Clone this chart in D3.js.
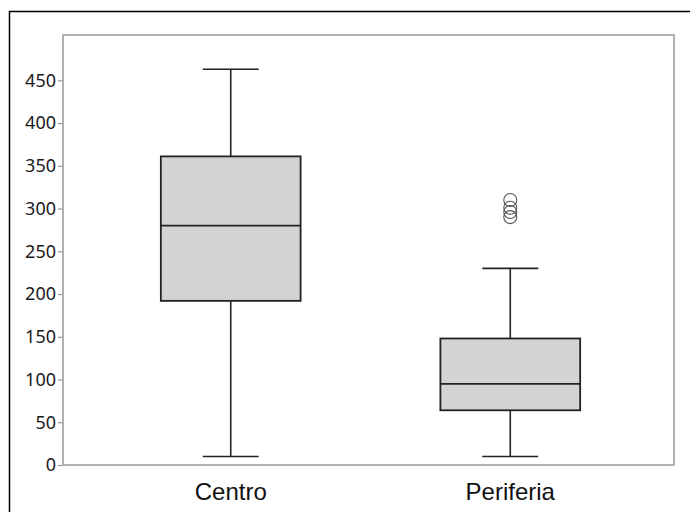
<!DOCTYPE html>
<html>
<head>
<meta charset="utf-8">
<script src="https://cdn.jsdelivr.net/npm/d3@7"></script>
<style>
  body { margin: 0; background: #fff; }
  svg { display: block; }
</style>
</head>
<body>
<svg id="chart" width="690" height="512"></svg>
<script>
// box statistics
const categories = ["Centro", "Periferia"];
const lowWhisker = [10, 10];
const lowerQuartile = [192, 64];
const medians = [280, 95];
const upperQuartile = [361, 148];
const highWhisker = [463, 230];
const outliers = [[], [310, 301, 296, 290]];
const yTicks = [0, 50, 100, 150, 200, 250, 300, 350, 400, 450];

const width = 690, height = 512;
const margin = { top: 35, right: 16, bottom: 47, left: 63 };
const innerW = width - margin.left - margin.right,
  innerH = height - margin.top - margin.bottom;

const svg = d3.select("#chart");

// outer frame, runs past the window on right and bottom
svg.append("rect")
  .attr("x", 9.5).attr("y", 11.5)
  .attr("width", 720).attr("height", 540)
  .attr("fill", "none")
  .attr("stroke", "#000")
  .attr("stroke-width", 1.5);

const g = svg.append("g").attr("transform", `translate(${margin.left},${margin.top})`);

const x = d3.scalePoint().domain(categories).range([0, innerW + 4]).padding(0.6);
const step = x.step();
const y = d3.scaleLinear().domain([0, 503]).range([innerH, 0]);

// plot frame
g.append("rect")
  .attr("x", 0).attr("y", 0)
  .attr("width", innerW).attr("height", innerH)
  .attr("fill", "none")
  .attr("stroke", "#999")
  .attr("stroke-width", 1.5);

// y axis
const yAxis = g.append("g")
  .call(d3.axisLeft(y).tickValues(yTicks).tickSize(5).tickPadding(2));
yAxis.select(".domain").remove();
yAxis.selectAll(".tick line").attr("stroke", "#999").attr("stroke-width", 1.2);
yAxis.selectAll(".tick text")
  .attr("fill", "#1a1a1a")
  .style("font-family", "'Noto Sans', 'Open Sans', sans-serif")
  .style("font-size", "18px");

// x labels
g.selectAll(".xlab")
  .data(categories)
  .join("text")
  .attr("x", d => x(d))
  .attr("y", innerH + 35)
  .attr("text-anchor", "middle")
  .style("font-family", "'Liberation Sans', Arial, sans-serif")
  .style("font-size", "24px")
  .attr("fill", "#111")
  .text(d => d);

const boxW = step * 0.5, capW = step * 0.2;
const ink = "#222";

const boxes = g.selectAll(".box")
  .data(categories)
  .join("g")
  .attr("class", "box");

// whiskers
boxes.append("line")
  .attr("x1", d => x(d)).attr("x2", d => x(d))
  .attr("y1", (d, i) => y(lowWhisker[i]))
  .attr("y2", (d, i) => y(highWhisker[i]))
  .attr("stroke", ink).attr("stroke-width", 1.6);

boxes.append("line")
  .attr("x1", d => x(d) - capW / 2).attr("x2", d => x(d) + capW / 2)
  .attr("y1", (d, i) => y(highWhisker[i])).attr("y2", (d, i) => y(highWhisker[i]))
  .attr("stroke", ink).attr("stroke-width", 1.6);

boxes.append("line")
  .attr("x1", d => x(d) - capW / 2).attr("x2", d => x(d) + capW / 2)
  .attr("y1", (d, i) => y(lowWhisker[i])).attr("y2", (d, i) => y(lowWhisker[i]))
  .attr("stroke", ink).attr("stroke-width", 1.6);

// box body
boxes.append("rect")
  .attr("x", d => x(d) - boxW / 2)
  .attr("width", boxW)
  .attr("y", (d, i) => y(upperQuartile[i]))
  .attr("height", (d, i) => y(lowerQuartile[i]) - y(upperQuartile[i]))
  .attr("fill", "#d3d3d3")
  .attr("stroke", ink).attr("stroke-width", 1.8);

// median
boxes.append("line")
  .attr("x1", d => x(d) - boxW / 2).attr("x2", d => x(d) + boxW / 2)
  .attr("y1", (d, i) => y(medians[i])).attr("y2", (d, i) => y(medians[i]))
  .attr("stroke", ink).attr("stroke-width", 1.8);

// outliers
boxes.each(function(d, i) {
  d3.select(this).selectAll("circle")
    .data(outliers[i])
    .join("circle")
    .attr("cx", x(d))
    .attr("cy", v => y(v))
    .attr("r", 6.5)
    .attr("fill", "none")
    .attr("stroke", "#555")
    .attr("stroke-width", 1.1);
});
</script>
</body>
</html>
